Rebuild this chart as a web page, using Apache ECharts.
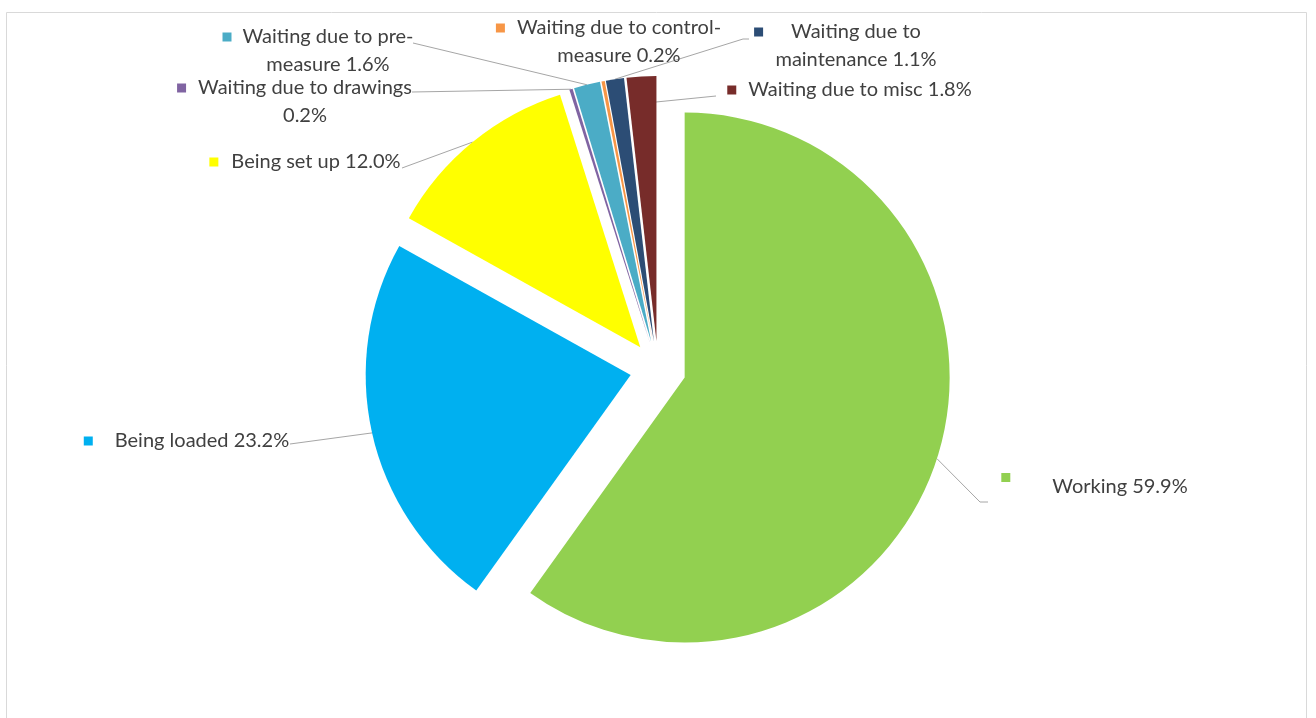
<!DOCTYPE html>
<html>
<head>
<meta charset="utf-8">
<script src="https://cdn.jsdelivr.net/npm/echarts@6/dist/echarts.min.js"></script>
<style>
  html, body { margin: 0; padding: 0; background: #fff; }
  #chart { width: 1316px; height: 718px; }
</style>
</head>
<body>
<div id="chart"></div>
<script>
const names = [
  'Working',
  'Being loaded',
  'Being set up',
  'Waiting due to drawings',
  'Waiting due to pre-\nmeasure',
  'Waiting due to control-\nmeasure',
  'Waiting due to\nmaintenance',
  'Waiting due to misc'
];
const values = [59.9, 23.2, 12.0, 0.2, 1.6, 0.2, 1.1, 1.8];
const colors = ['#92d050', '#00b0f0', '#ffff00', '#8064a2', '#4bacc6', '#f79646', '#2c4d75', '#772c2a'];
const valueSep = [' ', ' ', ' ', '\n', ' ', ' ', ' ', ' '];

// label placement: text centre, gap after the key square, leader line points
const labelPos = [[1120, 487], [202, 441], [316, 162], [305, 102], [328, 51], [619, 42], [856, 46], [860, 90]];
const keyGap = [42, 22, 13, 12, 11, 12, 28, 12];
const leaderStart = [null, null, null, null, null, null, null, [656, 102]];
const leaderEnd = [
  [[980, 502], [988, 502]],
  [[290, 444]],
  [[402, 168]],
  [[412, 92]],
  [[413, 43]],
  null,
  [[743, 39], [749, 39]],
  [[716, 96]]
];

const C = [658, 369];
const R = 265;
const EXPLODE = 28;

const chart = echarts.init(document.getElementById('chart'));

const pieData = names.map((n, i) => ({
  name: n,
  value: values[i],
  selected: true,
  itemStyle: {color: colors[i]}
}));

function labelText(i) {
  const n = names[i];
  const v = values[i].toFixed(1) + '%';
  // pad the first line on the right so the text (not the key) is centred
  const pad = '{g|}{m2|}';
  if (valueSep[i] === '\n') return '{m|}{g|}' + n + pad + '\n' + v;
  if (n.indexOf('\n') >= 0) return '{m|}{g|}' + n.replace('\n', pad + '\n') + ' ' + v;
  return '{m|}{g|}' + n + ' ' + v + pad;
}

const labelData = names.map((n, i) => ({
  name: n,
  value: values[i],
  label: {
    formatter: labelText(i),
    rich: {
      m: {width: 9, height: 9, backgroundColor: colors[i], verticalAlign: i === 0 ? 'top' : 'middle'},
      m2: {width: 9, height: 9},
      g: {width: keyGap[i]}
    }
  },
  labelLine: {show: leaderEnd[i] != null}
}));

chart.setOption({
  animation: false,
  backgroundColor: '#fff',
  graphic: [{
    type: 'rect',
    shape: {x: 6.5, y: 12.5, width: 1300, height: 720},
    style: {fill: 'none', stroke: '#d9d9d9', lineWidth: 1},
    silent: true
  }],
  series: [
    {
      type: 'pie',
      center: C,
      radius: [0, R],
      startAngle: 90,
      clockwise: true,
      selectedMode: 'multiple',
      selectedOffset: EXPLODE,
      silent: true,
      label: {show: false},
      labelLine: {show: false},
      emphasis: {disabled: true},
      data: pieData
    },
    {
      // transparent copy reaching the exploded rim, it carries the labels
      type: 'pie',
      center: C,
      radius: [0, R + EXPLODE],
      startAngle: 90,
      clockwise: true,
      silent: true,
      avoidLabelOverlap: false,
      itemStyle: {color: 'rgba(0,0,0,0)', borderWidth: 0},
      label: {
        show: true,
        position: 'outside',
        color: '#404040',
        fontFamily: 'Lato',
        fontSize: 20,
        lineHeight: 28,
        align: 'center'
      },
      labelLine: {
        show: true,
        lineStyle: {color: '#a6a6a6', width: 1}
      },
      labelLayout: params => {
        const i = params.dataIndex;
        const p = labelPos[i];
        const out = {x: p[0], y: p[1], align: 'center', verticalAlign: 'middle'};
        if (leaderEnd[i] && params.labelLinePoints) {
          const start = leaderStart[i] || params.labelLinePoints[0];
          out.labelLinePoints = [start].concat(leaderEnd[i]);
        }
        return out;
      },
      emphasis: {disabled: true},
      data: labelData
    }
  ]
});
</script>
</body>
</html>
